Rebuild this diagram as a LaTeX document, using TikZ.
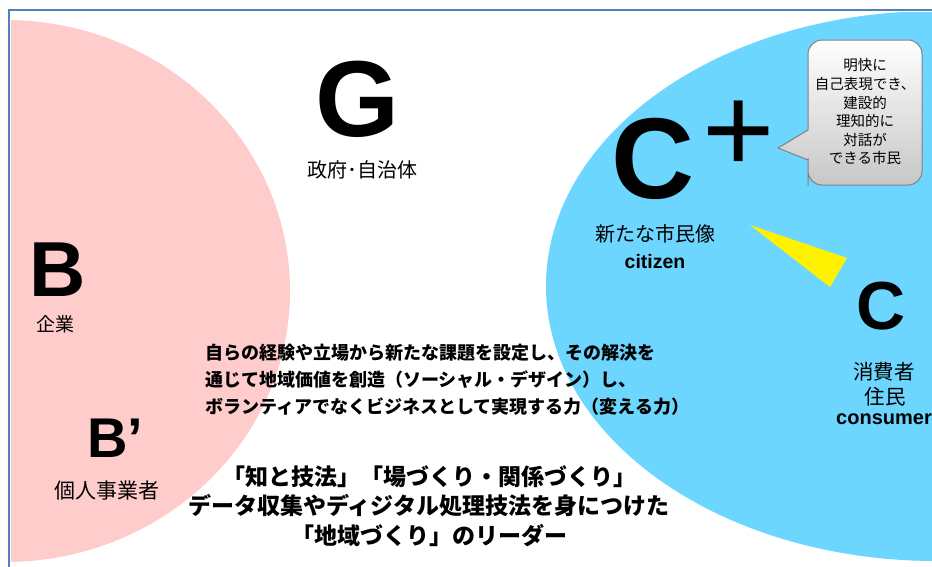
\documentclass[tikz,border=0pt]{standalone}
\usepackage{fontspec}
\setmainfont{Liberation Sans}
\newfontfamily\jp{Noto Sans CJK JP}
\definecolor{pinkfill}{RGB}{255,204,204}
\definecolor{bluefill}{RGB}{108,214,255}
\definecolor{framecol}{RGB}{79,129,189}
\definecolor{calloutline}{RGB}{128,128,128}
\begin{document}
\begin{tikzpicture}[x=1pt,y=-1pt,
  bigletter/.style={inner sep=0pt, font=\bfseries\fontsize{#1}{#1}\selectfont},
  jplabel/.style={inner sep=0pt, font=\jp\fontsize{#1}{#1}\selectfont},
  latinlabel/.style={inner sep=0pt, font=\bfseries\fontsize{#1}{#1}\selectfont},
  framestyle/.style={draw=framecol, line width=1.5pt},
  calloutstyle/.style={draw=calloutline, line width=1pt, top color=white, bottom color=black!22},
]
\useasboundingbox (0,0) rectangle (932,566);
\fill[white] (0,0) rectangle (932,566);
\begin{scope}
  \clip (11,12) rectangle (932,566);
  \fill[pinkfill] (5,291) ellipse [x radius=285, y radius=271];
  \fill[bluefill] (936,286) ellipse [x radius=390, y radius=275];
\end{scope}
\draw[framestyle] (9,570) -- (9,10) -- (940,10);

% G
\node[bigletter=108] (g) at (357,99) {G};
\node[jplabel=20] (gl) at (362,170) {政府･自治体};

% B
\node[bigletter=78] (b) at (58,270) {B};
\node[jplabel=19] (bl) at (55,324) {企業};
\node[bigletter=56, anchor=west] (bp) at (87,438) {B’};
\node[jplabel=21] (bpl) at (107,491) {個人事業者};

% C+
\node[bigletter=115] (cp) at (653,159) {C};
\node[inner sep=0pt, font=\fontsize{124}{124}\selectfont] (plus) at (739,137) {+};
\node[jplabel=20] (cpl) at (655,234) {新たな市民像};
\node[latinlabel=19.5] (cpl2) at (655,262) {citizen};

% yellow wedge
\fill[yellow] (750,225) -- (847,258) -- (830,287) -- cycle;

% C
\node[bigletter=68] (c) at (881,306) {C};
\node[jplabel=20.5] (cl1) at (884,372) {消費者};
\node[jplabel=20.5] (cl2) at (885,397) {住民};
\node[latinlabel=20, anchor=west] (cl3) at (836,419) {consumer};

% callout
\draw[calloutstyle] (808,120) -- (808,110) [rounded corners=14pt] |- (922,40) |- (808,185) -- (808,172) [sharp corners] -- (808,160) -- (778,148) -- (808,130) -- cycle;
\node[inner sep=0pt, align=center, font=\jp\fontsize{14.5}{18.6}\selectfont] (callout) at (865,112) {明快に\\自己表現でき、\\建設的\\理知的に\\対話が\\できる市民};

% middle block
\node[inner sep=0pt, anchor=west, align=left, font=\jp\bfseries\fontsize{18}{27}\selectfont] (mid) at (205,380) {自らの経験や立場から新たな課題を設定し、その解決を\\通じて地域価値を創造（ソーシャル・デザイン）し、\\ボランティアでなくビジネスとして実現する力（変える力）};

% bottom block
\node[inner sep=0pt, align=center, font=\jp\bfseries\fontsize{23}{29.5}\selectfont] (bottom) at (429,506) {「知と技法」「場づくり・関係づくり」\\データ収集やディジタル処理技法を身につけた\\「地域づくり」のリーダー};
\end{tikzpicture}
\end{document}
